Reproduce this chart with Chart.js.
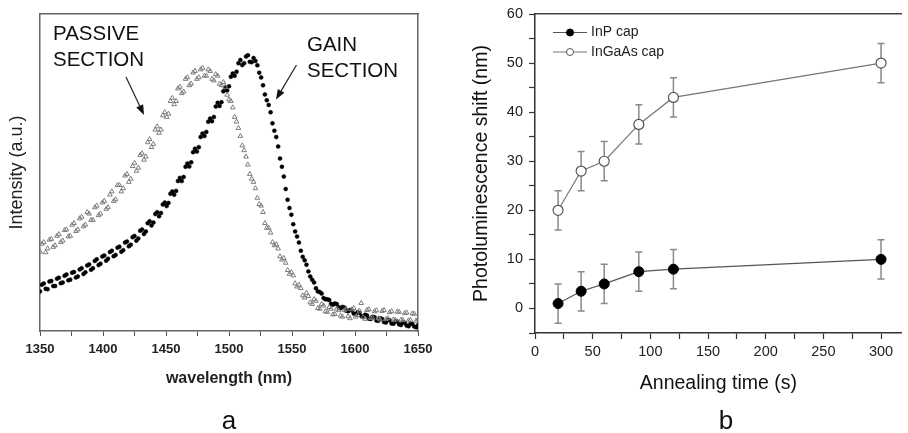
<!DOCTYPE html>
<html><head><meta charset="utf-8">
<script src="https://cdn.jsdelivr.net/npm/chart.js@4.4.0/dist/chart.umd.min.js"></script>
<style>
html,body{margin:0;padding:0;background:#fff;width:908px;height:433px;overflow:hidden;}
#wa{position:absolute;left:0;top:0;width:450px;height:433px;}
#wb{position:absolute;left:460px;top:0;width:448px;height:433px;}
</style></head><body>
<div id="wa"><canvas id="ca"></canvas></div>
<div id="wb"><canvas id="cb"></canvas></div>
<script>
// ---------- Panel a data ----------
const wavelengthNm = [1350,1353,1356,1359,1362,1365,1368,1371,1374,1377,
1380,1383,1386,1389,1392,1395,1398,1401,1404,1407,
1410,1413,1416,1419,1422,1425,1428,1431,1434,1437,
1440,1443,1446,1449,1452,1455,1458,1461,1464,1467,
1470,1473,1476,1479,1482,1485,1488,1491,1494,1497,
1500,1503,1506,1509,1512,1515,1518,1521,1524,1527,
1530,1533,1536,1539,1542,1545,1548,1551,1554,1557,
1560,1563,1566,1569,1572,1575,1578,1581,1584,1587,
1590,1593,1596,1599,1602,1605,1608,1611,1614,1617,
1620,1623,1626,1629,1632,1635,1638,1641,1644,1647,
1650];
const passiveSection = [25,28,26,29,27,30.5,28.5,32,30,34,
32,36,33.5,37,35,39.5,37,41,39,44,
41.5,46,45,49.5,48,53,51.5,56,55,60.5,
59,64.5,63.5,69,68.5,73.5,72.5,77,75.5,80,
78,82,80,83,80.5,82,79,80.5,77.5,77,
73,70.5,66,61.5,57,52.5,48,45,40,37.5,
32.5,31,27,26,22.5,21.5,18,17.5,14,13.5,
10.5,11,8.5,9.5,7,8,6,7,5.3,6.5,
4.5,7,4,7.2,5,8.8,3.8,6.8,4.2,6.5,
3.6,6.6,4,6.2,3.5,6,3.4,5.8,3.5,5.4,
3.6];
const gainSection = [12.5,15,13.2,15.8,14.2,16.8,15.3,17.8,16.2,18.6,
17.2,19.8,18.5,21,19.8,22.6,21.2,23.8,22.8,25.3,
24,26.6,25.5,28.2,27.2,30,29.2,32,31.4,34.6,
34.2,37.5,37.2,40.5,40.4,44,44.2,48.3,48.6,52.8,
53.2,57.5,58,62.3,62.8,67,67.5,72,72.2,76.8,
77.2,81.2,81.8,85.5,84.5,87,84.8,85.2,81.5,77.5,
72.8,69,63.2,58.2,51.8,44.8,38.8,33.7,29.8,25.3,
22.3,18.8,16.2,13.5,12.3,10.4,10,8.6,8.7,7.5,
7.6,6.4,6.6,5.5,5.9,4.7,5.1,3.9,4.5,3.3,
4,2.8,3.5,2.4,3.1,2.1,2.7,1.7,2.3,1.4,
1.8];
// second (interleaved) set of spectrum samples
const wavelengthNmB = [1351.5,1354.5,1357.5,1360.5,1363.5,1366.5,1369.5,1372.5,1375.5,1378.5,
1381.5,1384.5,1387.5,1390.5,1393.5,1396.5,1399.5,1402.5,1405.5,1408.5,
1411.5,1414.5,1417.5,1420.5,1423.5,1426.5,1429.5,1432.5,1435.5,1438.5,
1441.5,1444.5,1447.5,1450.5,1453.5,1456.5,1459.5,1462.5,1465.5,1468.5,
1471.5,1474.5,1477.5,1480.5,1483.5,1486.5,1489.5,1492.5,1495.5,1498.5,
1501.5,1504.5,1507.5,1510.5,1513.5,1516.5,1519.5,1522.5,1525.5,1528.5,
1531.5,1534.5,1537.5,1540.5,1543.5,1546.5,1549.5,1552.5,1555.5,1558.5,
1561.5,1564.5,1567.5,1570.5,1573.5,1576.5,1579.5,1582.5,1585.5,1588.5,
1591.5,1594.5,1597.5,1600.5,1603.5,1606.5,1609.5,1612.5,1615.5,1618.5,
1621.5,1624.5,1627.5,1630.5,1633.5,1636.5,1639.5,1642.5,1645.5,1648.5];
const passiveSectionB = [27.5,24.8,28.8,26.5,30,28,31.8,29.8,33.5,31.5,
35.5,33,37.5,35,39,36.5,40.5,38.5,43,41,
46,44,49,47,52,50.5,55.5,54,59.5,58,
63.5,62.5,68,67.5,72.5,71.5,76.5,75,79.5,77.5,
81.5,79.5,82.5,80.5,82.5,79.5,81,78,78.5,74.5,
72.5,67.5,64,58.5,55,49.5,47,42,39.5,34,
32.5,28,27.3,23.5,23,19.2,18.5,15,14.5,11.2,
12,9,10,7.2,8.5,6.2,7.5,5.2,7,4.8,
6.5,4.6,6.8,4.5,6.4,4.3,6.6,4.1,6.2,4,
6.3,3.7,5.9,3.6,6.1,3.5,5.6,3.3,5.5,3.2];
const gainSectionB = [14.6,13.3,15.6,14.2,16.5,15.1,17.4,16,18.4,16.9,
19.4,18,20.7,19.3,22.1,20.8,23.5,22.2,24.9,23.6,
26.3,25,27.9,26.7,29.6,28.5,31.6,30.6,34,33.3,
36.9,36.2,39.9,39.4,43.3,43,47.3,47.3,51.8,51.9,
56.4,56.6,61.2,61.5,66,66.2,70.8,71,75.6,75.9,
80.2,80.5,84.5,83.9,86.6,84.9,86.1,83.8,80,74.6,
71.3,65.5,61.2,54.4,48.7,41.4,36.7,31.4,27.9,23.4,
20.9,17.2,15.3,12.5,11.8,10,9.8,8.3,8.5,7.2,
7.4,6.2,6.5,5.3,5.7,4.5,4.9,3.8,4.3,3.2,
3.8,2.7,3.4,2.3,3,1.9,2.6,1.5,2.2,1.2];

// ---------- Panel b data ----------
const annealTimeS = [20,40,60,90,120,300];
const inpCapShift = [1,3.5,5,7.5,8,10];
const inpCapErr = [4,4,4,4,4,4];
const ingaasCapShift = [20,28,30,37.5,43,50];
const ingaasCapErr = [4,4,4,4,4,4];

const FONT = "'Liberation Sans', Arial, Helvetica, sans-serif";
Chart.defaults.font.family = FONT;

function fixSize(size, horiz) {
  return function (axis) {
    if (horiz) axis.height = size; else axis.width = size;
    axis.paddingLeft = 0; axis.paddingRight = 0; axis.paddingTop = 0; axis.paddingBottom = 0;
  };
}
function pts(xs, ys) { return xs.map((x, i) => ({ x: x, y: ys[i] })); }

function arrow(ctx, x1, y1, x2, y2) {
  const ang = Math.atan2(y2 - y1, x2 - x1), L = 10, W = 3.8;
  const bx = x2 - L * Math.cos(ang), by = y2 - L * Math.sin(ang);
  ctx.beginPath(); ctx.moveTo(x1, y1); ctx.lineTo(bx, by); ctx.stroke();
  ctx.beginPath(); ctx.moveTo(x2, y2);
  ctx.lineTo(bx + W * Math.sin(ang), by - W * Math.cos(ang));
  ctx.lineTo(bx - W * Math.sin(ang), by + W * Math.cos(ang));
  ctx.closePath(); ctx.fill();
}

const annotA = {
  id: 'annotA',
  afterDraw(chart) {
    const ctx = chart.ctx;
    ctx.save();
    ctx.fillStyle = '#111'; ctx.strokeStyle = '#222'; ctx.lineWidth = 1.2;
    ctx.font = '20.5px ' + FONT; ctx.textAlign = 'left'; ctx.textBaseline = 'alphabetic';
    ctx.fillText('PASSIVE', 53, 40);
    ctx.fillText('SECTION', 53, 66);
    ctx.fillText('GAIN', 307, 50.5);
    ctx.fillText('SECTION', 307, 76.5);
    arrow(ctx, 126, 77, 144, 115);
    arrow(ctx, 296.5, 65, 276, 99.5);
    ctx.font = '26px ' + FONT; ctx.textAlign = 'center'; ctx.textBaseline = 'middle';
    ctx.fillText('a', 229, 422);
    ctx.restore();
  }
};

new Chart(document.getElementById('ca'), {
  type: 'scatter',
  data: { datasets: [
    { label: 'PASSIVE SECTION', data: pts(wavelengthNm, passiveSection).concat(pts(wavelengthNmB, passiveSectionB)),
      pointStyle: 'triangle', pointRadius: 2.7, borderColor: '#7d7d7d', backgroundColor: 'rgba(255,255,255,0)', borderWidth: 1 },
    { label: 'GAIN SECTION', data: pts(wavelengthNm, gainSection).concat(pts(wavelengthNmB, gainSectionB)),
      pointStyle: 'circle', pointRadius: 2, borderColor: '#000', backgroundColor: '#000', borderWidth: 0.5 }
  ]},
  options: {
    responsive: true, maintainAspectRatio: false, animation: false, devicePixelRatio: 1,
    layout: { padding: { left: 0, top: 14, right: 32, bottom: 0 } },
    plugins: { legend: { display: false }, tooltip: { enabled: false } },
    scales: {
      x: { type: 'linear', position: 'bottom', min: 1350, max: 1650,
        ticks: { stepSize: 25, autoSkip: false, includeBounds: false, maxRotation: 0, padding: 5.5, color: '#222',
          font: { family: FONT, size: 13, weight: 'bold' }, callback: v => (v % 50 === 0 ? String(v) : '') },
        grid: { display: true, drawOnChartArea: false, drawTicks: true, tickLength: 5, color: '#555', tickWidth: 1 },
        border: { display: true, color: '#666', width: 1.5 },
        title: { display: true, text: 'wavelength (nm)', color: '#222', font: { family: FONT, size: 16, weight: 'bold' }, padding: { top: 0, bottom: 45 } },
        afterFit: fixSize(102, true) },
      x2: { type: 'linear', position: 'top', min: 1350, max: 1650, ticks: { display: false }, grid: { display: false },
        border: { display: true, color: '#666', width: 1.5 }, afterFit: fixSize(0, true) },
      y: { type: 'linear', position: 'left', min: 0, max: 100, ticks: { display: false }, grid: { display: false },
        border: { display: true, color: '#666', width: 1.5 },
        title: { display: true, text: 'Intensity (a.u.)', color: '#222', font: { family: FONT, size: 18 }, padding: { top: 6, bottom: 0 } },
        afterFit: fixSize(40, false) },
      y2: { type: 'linear', position: 'right', min: 0, max: 100, ticks: { display: false }, grid: { display: false },
        border: { display: true, color: '#666', width: 1.5 }, afterFit: fixSize(0, false) }
    }
  },
  plugins: [annotA]
});

// ---------- Panel b ----------
const errorBars = {
  id: 'errorBars',
  beforeDatasetsDraw(chart) {
    const ctx = chart.ctx, xs = chart.scales.x, ys = chart.scales.y;
    ctx.save();
    ctx.strokeStyle = '#8a8a8a'; ctx.lineWidth = 1.5;
    chart.data.datasets.forEach(ds => {
      ds.data.forEach((p, j) => {
        const e = ds.errors[j];
        const x = xs.getPixelForValue(p.x);
        const yt = ys.getPixelForValue(p.y + e), yb = ys.getPixelForValue(p.y - e);
        ctx.beginPath();
        ctx.moveTo(x, yt); ctx.lineTo(x, yb);
        ctx.moveTo(x - 3.5, yt); ctx.lineTo(x + 3.5, yt);
        ctx.moveTo(x - 3.5, yb); ctx.lineTo(x + 3.5, yb);
        ctx.stroke();
      });
    });
    ctx.restore();
  }
};

const annotB = {
  id: 'annotB',
  afterDraw(chart) {
    const ctx = chart.ctx, ca = chart.chartArea;
    ctx.save();
    const rows = [ca.top + 18.5, ca.top + 38];
    chart.data.datasets.forEach((ds, i) => {
      const y = rows[i];
      ctx.strokeStyle = ds.borderColor; ctx.lineWidth = 1;
      ctx.beginPath(); ctx.moveTo(ca.left + 18, y); ctx.lineTo(ca.left + 52, y); ctx.stroke();
      ctx.beginPath(); ctx.arc(ca.left + 35, y, 3.5, 0, Math.PI * 2);
      ctx.fillStyle = ds.pointBackgroundColor; ctx.fill();
      ctx.strokeStyle = ds.pointBorderColor; ctx.stroke();
      ctx.fillStyle = '#222'; ctx.font = '14px ' + FONT; ctx.textAlign = 'left'; ctx.textBaseline = 'middle';
      ctx.fillText(ds.label, ca.left + 56, y);
    });
    ctx.fillStyle = '#111'; ctx.font = '26px ' + FONT; ctx.textAlign = 'center'; ctx.textBaseline = 'middle';
    ctx.fillText('b', 266, 421.5);
    ctx.restore();
  }
};

new Chart(document.getElementById('cb'), {
  type: 'line',
  data: { datasets: [
    { label: 'InP cap', data: pts(annealTimeS, inpCapShift), errors: inpCapErr,
      borderColor: '#555', borderWidth: 1.2, pointRadius: 5, pointBackgroundColor: '#000', pointBorderColor: '#000',
      pointBorderWidth: 1, tension: 0, fill: false },
    { label: 'InGaAs cap', data: pts(annealTimeS, ingaasCapShift), errors: ingaasCapErr,
      borderColor: '#777', borderWidth: 1.2, pointRadius: 5, pointBackgroundColor: '#fff', pointBorderColor: '#555',
      pointBorderWidth: 1.2, tension: 0, fill: false }
  ]},
  options: {
    responsive: true, maintainAspectRatio: false, animation: false, devicePixelRatio: 1,
    layout: { padding: { left: 0, top: 14, right: 0, bottom: 0 } },
    plugins: { legend: { display: false }, tooltip: { enabled: false } },
    scales: {
      x: { type: 'linear', position: 'bottom', min: 0, max: 318,
        ticks: { stepSize: 25, autoSkip: false, includeBounds: false, maxRotation: 0, padding: 4.5, color: '#222',
          font: { family: FONT, size: 14.5 }, callback: v => (v % 50 === 0 ? String(v) : '') },
        grid: { display: true, drawOnChartArea: false, drawTicks: true, tickLength: 6, color: '#333', tickWidth: 1.2 },
        border: { display: true, color: '#333', width: 1.5 },
        title: { display: true, text: 'Annealing time (s)', color: '#111', font: { family: FONT, size: 19.5 }, padding: { top: 0, bottom: 38 } },
        afterFit: fixSize(100, true) },
      x2: { type: 'linear', position: 'top', min: 0, max: 318, ticks: { display: false }, grid: { display: false },
        border: { display: true, color: '#444', width: 1.5 }, afterFit: fixSize(0, true) },
      y: { type: 'linear', position: 'left', min: -5, max: 60,
        ticks: { stepSize: 5, autoSkip: false, includeBounds: false, padding: 6, color: '#222',
          font: { family: FONT, size: 14.5 }, callback: v => (v % 10 === 0 ? String(v) : '') },
        grid: { display: true, drawOnChartArea: false, drawTicks: true, tickLength: 6, color: '#333', tickWidth: 1.2 },
        border: { display: true, color: '#333', width: 1.5 },
        title: { display: true, text: 'Photoluminescence shift (nm)', color: '#111', font: { family: FONT, size: 19.5 }, padding: { top: 10, bottom: 0 } },
        afterFit: fixSize(75, false) }
    }
  },
  plugins: [errorBars, annotB]
});
</script>
</body></html>
